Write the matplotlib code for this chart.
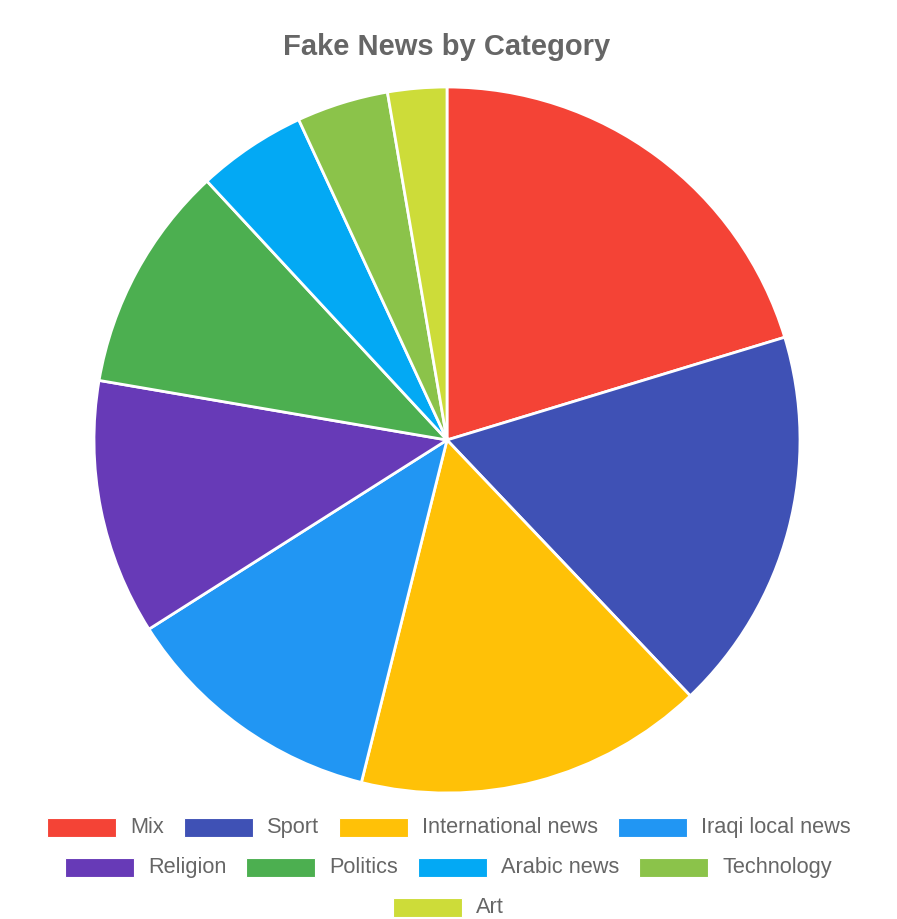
import matplotlib.pyplot as plt
from matplotlib.patches import Rectangle

# category shares (%), clockwise from 12 o'clock
categories = ["Mix", "Sport", "International news", "Iraqi local news",
              "Religion", "Politics", "Arabic news", "Technology", "Art"]
shares = [20.3, 17.6, 16.0, 12.1, 11.7, 10.4, 5.0, 4.2, 2.7]
colors = ["#F44336", "#3F51B5", "#FFC107", "#2196F3", "#673AB7",
          "#4CAF50", "#03A9F4", "#8BC34A", "#CDDC39"]

W, H = 897, 920
plt.rcParams['font.family'] = ['Liberation Sans', 'DejaVu Sans']
fig = plt.figure(figsize=(W / 100, H / 100), dpi=100)

# pie: centre (447, 441) px, radius 353 px
cx, cy, r = 447, 441, 353
ax = fig.add_axes([(cx - r) / W, 1 - (cy + r) / H, 2 * r / W, 2 * r / H])
ax.pie(shares, colors=colors, startangle=90, counterclock=False, radius=1,
       wedgeprops=dict(edgecolor="white", linewidth=2))
ax.set_xlim(-1, 1)
ax.set_ylim(-1, 1)
ax.set_aspect("equal")
ax.axis("off")

fig.text(cx / W, 1 - 47 / H, "Fake News by Category", ha="center", va="center",
         fontsize=21, fontweight="bold", color="#666666")

# legend laid out in centred rows
fs = 21.8 * 72 / 100
box_w, box_h = 69, 19
gap, pad = 14, 20
max_w = 850
renderer = fig.canvas.get_renderer()
widths = []
for name in categories:
    t = fig.text(0, 0, name, fontsize=fs)
    widths.append(box_w + gap + t.get_window_extent(renderer).width)
    t.remove()

rows, cur, cur_w = [], [], 0
for i, w in enumerate(widths):
    extra = w if not cur else w + pad
    if cur and cur_w + extra > max_w:
        rows.append((cur, cur_w))
        cur, cur_w = [i], w
    else:
        cur.append(i)
        cur_w += extra
rows.append((cur, cur_w))

row_y = [828, 868, 908]
for (items, total), y in zip(rows, row_y):
    x = (W - total) / 2
    for i in items:
        fig.add_artist(Rectangle((x / W, 1 - (y + box_h / 2) / H), box_w / W, box_h / H,
                                 transform=fig.transFigure, facecolor=colors[i],
                                 edgecolor="white", linewidth=0.8))
        fig.text((x + box_w + gap) / W, 1 - y / H, categories[i], ha="left",
                 va="center", fontsize=fs, color="#666666")
        x += widths[i] + pad

fig.savefig("out.png", dpi=100)
